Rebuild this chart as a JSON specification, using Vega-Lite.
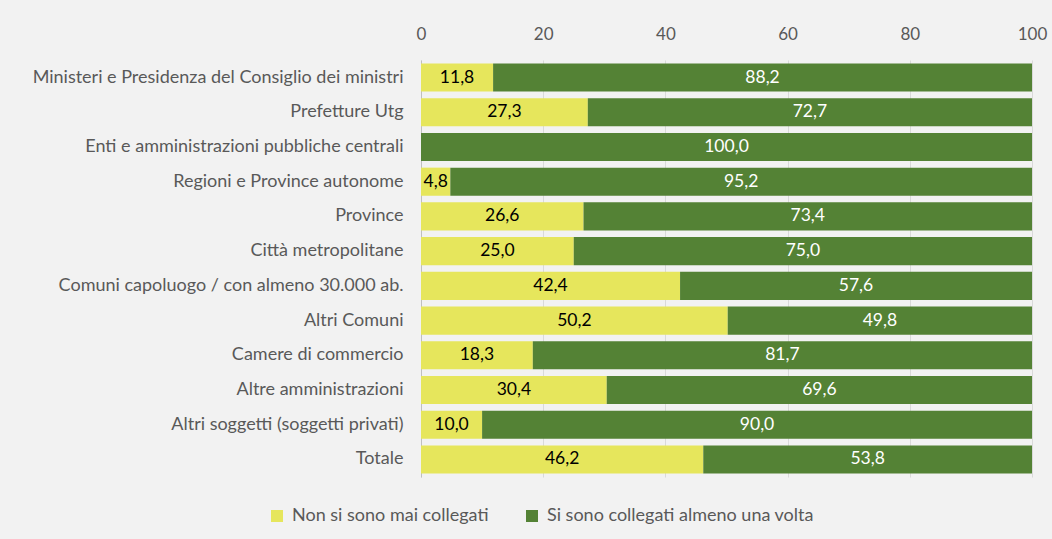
{
  "$schema": "https://vega.github.io/schema/vega-lite/v6.json",
  "width": 611,
  "height": 417,
  "autosize": {"type": "none"},
  "padding": {"left": 421, "top": 60, "right": 20, "bottom": 62},
  "background": "#f2f2f2",
  "config": {
    "locale": {"number": {"decimal": ",", "thousands": ".", "grouping": [3], "currency": ["€", ""]}},
    "view": {"stroke": null},
    "font": "Lato"
  },
  "data": {
    "values": [
      {"cat": "Ministeri e Presidenza del Consiglio dei ministri", "serie": "Non si sono mai collegati", "value": 11.8},
      {"cat": "Ministeri e Presidenza del Consiglio dei ministri", "serie": "Si sono collegati almeno una volta", "value": 88.2},
      {"cat": "Prefetture Utg", "serie": "Non si sono mai collegati", "value": 27.3},
      {"cat": "Prefetture Utg", "serie": "Si sono collegati almeno una volta", "value": 72.7},
      {"cat": "Enti e amministrazioni pubbliche centrali", "serie": "Non si sono mai collegati", "value": 0},
      {"cat": "Enti e amministrazioni pubbliche centrali", "serie": "Si sono collegati almeno una volta", "value": 100.0},
      {"cat": "Regioni e Province autonome", "serie": "Non si sono mai collegati", "value": 4.8},
      {"cat": "Regioni e Province autonome", "serie": "Si sono collegati almeno una volta", "value": 95.2},
      {"cat": "Province", "serie": "Non si sono mai collegati", "value": 26.6},
      {"cat": "Province", "serie": "Si sono collegati almeno una volta", "value": 73.4},
      {"cat": "Città metropolitane", "serie": "Non si sono mai collegati", "value": 25.0},
      {"cat": "Città metropolitane", "serie": "Si sono collegati almeno una volta", "value": 75.0},
      {"cat": "Comuni capoluogo / con almeno 30.000 ab.", "serie": "Non si sono mai collegati", "value": 42.4},
      {"cat": "Comuni capoluogo / con almeno 30.000 ab.", "serie": "Si sono collegati almeno una volta", "value": 57.6},
      {"cat": "Altri Comuni", "serie": "Non si sono mai collegati", "value": 50.2},
      {"cat": "Altri Comuni", "serie": "Si sono collegati almeno una volta", "value": 49.8},
      {"cat": "Camere di commercio", "serie": "Non si sono mai collegati", "value": 18.3},
      {"cat": "Camere di commercio", "serie": "Si sono collegati almeno una volta", "value": 81.7},
      {"cat": "Altre amministrazioni", "serie": "Non si sono mai collegati", "value": 30.4},
      {"cat": "Altre amministrazioni", "serie": "Si sono collegati almeno una volta", "value": 69.6},
      {"cat": "Altri soggetti (soggetti privati)", "serie": "Non si sono mai collegati", "value": 10.0},
      {"cat": "Altri soggetti (soggetti privati)", "serie": "Si sono collegati almeno una volta", "value": 90.0},
      {"cat": "Totale", "serie": "Non si sono mai collegati", "value": 46.2},
      {"cat": "Totale", "serie": "Si sono collegati almeno una volta", "value": 53.8}
    ]
  },
  "transform": [
    {"calculate": "datum.serie === 'Non si sono mai collegati' ? 0 : 1", "as": "ord"},
    {"stack": "value", "groupby": ["cat"], "sort": [{"field": "ord"}], "as": ["x0", "x1"]},
    {"calculate": "(datum.x0 + datum.x1) / 2", "as": "xm"}
  ],
  "encoding": {
    "y": {
      "field": "cat", "type": "nominal", "sort": null,
      "scale": {"paddingInner": 0.19, "paddingOuter": 0.1},
      "axis": {
        "title": null, "ticks": false, "domain": true, "domainColor": "#bfbfbf",
        "labelFontSize": 18, "labelColor": "#595959", "labelPadding": 18, "labelLimit": 500
      }
    }
  },
  "layer": [
    {
      "mark": {"type": "bar"},
      "encoding": {
        "x": {
          "field": "x0", "type": "quantitative",
          "scale": {"domain": [0, 100], "nice": false},
          "axis": {
            "orient": "top", "title": null, "values": [0, 20, 40, 60, 80, 100],
            "ticks": false, "domain": false, "grid": true, "gridColor": "#d9d9d9",
            "labelFontSize": 17, "labelColor": "#595959", "labelPadding": 17,
            "labelFlush": false, "format": "d"
          }
        },
        "x2": {"field": "x1"},
        "color": {
          "field": "serie", "type": "nominal",
          "scale": {
            "domain": ["Non si sono mai collegati", "Si sono collegati almeno una volta"],
            "range": ["#e6e65c", "#548235"]
          },
          "legend": {
            "title": null, "orient": "none", "direction": "horizontal",
            "legendX": -153, "legendY": 447,
            "symbolType": "square", "symbolSize": 144, "symbolStrokeWidth": 0,
            "labelFontSize": 18, "labelColor": "#595959", "columnPadding": 34,
            "labelOffset": 6, "labelLimit": 500
          }
        }
      }
    },
    {
      "transform": [{"filter": "datum.value > 0"}],
      "mark": {"type": "text", "fontSize": 17.5, "baseline": "middle", "align": "center"},
      "encoding": {
        "x": {"field": "xm", "type": "quantitative"},
        "text": {"field": "value", "type": "quantitative", "format": ".1f"},
        "color": {
          "field": "serie", "type": "nominal",
          "scale": {
            "domain": ["Non si sono mai collegati", "Si sono collegati almeno una volta"],
            "range": ["#000000", "#ffffff"]
          },
          "legend": null
        }
      }
    }
  ],
  "resolve": {"scale": {"color": "independent"}}
}
